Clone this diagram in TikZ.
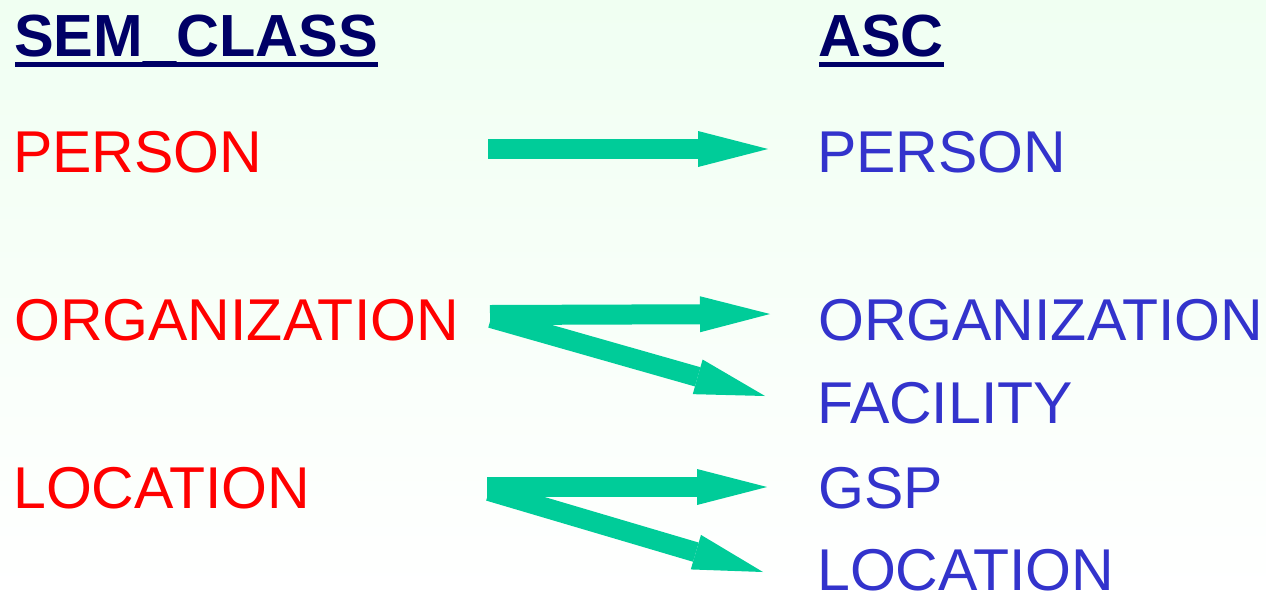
\documentclass[tikz,border=0pt]{standalone}
\usepackage{fontspec}
\setmainfont{Liberation Sans}
\usetikzlibrary{arrows.meta}
\definecolor{redtxt}{RGB}{255,0,0}
\definecolor{bluetxt}{RGB}{51,51,204}
\definecolor{navy}{RGB}{0,0,102}
\definecolor{arrowgreen}{RGB}{0,204,153}
\definecolor{bgtop}{RGB}{240,255,242}
\tikzset{
  lbl/.style={anchor=base west,inner sep=0pt,font=\fontsize{59}{59}\selectfont},
  src/.style={lbl,text=redtxt},
  dst/.style={lbl,text=bluetxt},
  hdr/.style={lbl,text=navy,font=\fontsize{59.5}{59.5}\selectfont\bfseries},
  uline/.style={navy,line width=5pt},
  fatarrow/.style={arrowgreen,line width=20pt,-{Triangle[length=70pt,width=36pt,line width=0pt]}}
}
\begin{document}
\begin{tikzpicture}[x=1pt,y=-1pt]
\useasboundingbox (0,0) rectangle (1266,595);
\shade[top color=bgtop,bottom color=white] (0,0) rectangle (1266,595);
% headers
\node[hdr] (sem) at (14,56) {SEM\_CLASS};
\node[hdr] (asc) at (818,56) {ASC};
\draw[uline] ([xshift=1pt,yshift=-8.5pt]sem.base west) -- ([yshift=-8.5pt]sem.base east);
\draw[uline] ([xshift=1pt,yshift=-8.5pt]asc.base west) -- ([yshift=-8.5pt]asc.base east);
% left column
\node[src] (sperson) at (13,172) {PERSON};
\node[src] (sorg) at (14,340) {ORGANIZATION};
\node[src] (sloc) at (13,508) {LOCATION};
% right column
\node[dst] (dperson) at (817,172) {PERSON};
\node[dst] (dorg) at (818,340) {ORGANIZATION};
\node[dst] (dfac) at (817,423) {FACILITY};
\node[dst] (dgsp) at (818,508) {GSP};
\node[dst,text depth=0pt] (dloc) at (817,590.5) {LOCATION};
% arrow ends
\coordinate (a1s) at (488,149);
\coordinate (a1e) at (768,149);
\coordinate (a2s) at (490,315);
\coordinate (a2e) at (770,314);
\coordinate (a3s) at (491,318);
\coordinate (a3e) at (765,396);
\coordinate (a4s) at (487,487);
\coordinate (a4e) at (767,487);
\coordinate (a5s) at (489,491);
\coordinate (a5e) at (763,572);
\draw[fatarrow] (a1s) -- (a1e);
\draw[fatarrow] (a3s) -- (a3e);
\draw[fatarrow] (a2s) -- (a2e);
\draw[fatarrow] (a5s) -- (a5e);
\draw[fatarrow] (a4s) -- (a4e);
\end{tikzpicture}
\end{document}
